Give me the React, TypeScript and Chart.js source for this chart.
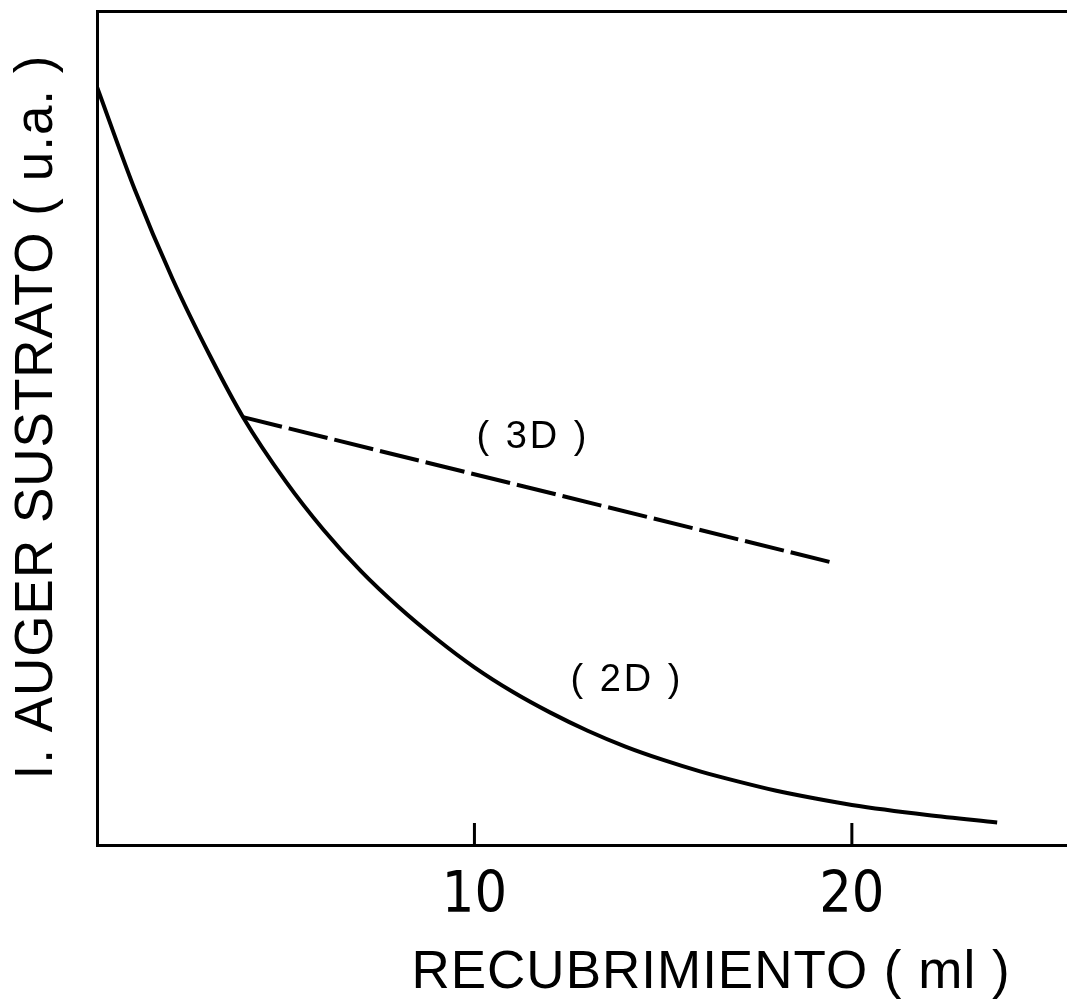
import { useEffect, useRef } from 'react';
import { Chart, registerables } from 'chart.js';

Chart.register(...registerables);

// Coverage (monolayers) and substrate Auger intensity (arbitrary units)
const curve2DX = [0, 1, 2, 3, 3.87, 5, 6, 7, 8, 9, 10, 11, 12, 13, 14, 15, 16, 17, 18, 19, 20, 22, 23.85];
const curve2DY = [90.9, 78.6, 67.9, 58.6, 51.3, 43.6, 37.8, 32.8, 28.5, 24.7, 21.3, 18.4, 15.9, 13.7, 11.8, 10.2, 8.8, 7.6, 6.5, 5.6, 4.8, 3.6, 2.7];

const curve3DX = [3.87, 19.45];
const curve3DY = [51.3, 33.9];

const xTickValues = [10, 20];
const xMin = 0;
const xMax = 25.7;
const yMin = 0;
const yMax = 100;

const xTitle = 'RECUBRIMIENTO ( ml )';
const yTitle = 'I. AUGER SUSTRATO ( u.a. )';
const curveLabels = ['( 3D )', '( 2D )'];
const curveLabelAnchorX = [11.55, 14.04];
const curveLabelAnchorY = [48.9, 19.7];

const FONT = '"Liberation Sans", Arial, sans-serif';
const NARROW_FONT = '"Liberation Sans Narrow", "DejaVu Sans Condensed", "Liberation Sans", sans-serif';

const toPoints = (xs: number[], ys: number[]) => xs.map((x, i) => ({ x, y: ys[i] }));

const figureText = {
  id: 'figureText',
  afterDraw(chart: any) {
    const { ctx, chartArea, scales } = chart;
    const x = scales.x;
    const y = scales.y;
    ctx.save();
    // inward tick marks on the bottom axis
    ctx.strokeStyle = '#000';
    ctx.lineWidth = 3;
    xTickValues.forEach((v) => {
      const px = x.getPixelForValue(v);
      ctx.beginPath();
      ctx.moveTo(px, chartArea.bottom);
      ctx.lineTo(px, chartArea.bottom - 22);
      ctx.stroke();
    });

    // curve labels
    ctx.fillStyle = '#000';
    ctx.textAlign = 'center';
    ctx.textBaseline = 'middle';
    ctx.font = `38px ${FONT}`;
    ctx.letterSpacing = '3px';
    curveLabels.forEach((t, i) => {
      ctx.fillText(t, x.getPixelForValue(curveLabelAnchorX[i]), y.getPixelForValue(curveLabelAnchorY[i]));
    });

    // axis titles
    ctx.font = `53px ${FONT}`;
    ctx.letterSpacing = '1px';
    ctx.textBaseline = 'alphabetic';
    ctx.fillText(xTitle, 711, 988);
    ctx.translate(52, 417);
    ctx.rotate(-Math.PI / 2);
    ctx.fillText(yTitle, 0, 0);
    ctx.restore();
  },
};

export default function App() {
  const ref = useRef<HTMLCanvasElement>(null);

  useEffect(() => {
    document.body.style.margin = '0';
    const canvas = ref.current;
    if (!canvas) return;
    const chart = new Chart(canvas, {
      type: 'line',
      data: {
        datasets: [
          {
            label: '2D',
            data: toPoints(curve2DX, curve2DY),
            borderColor: '#000',
            borderWidth: 4,
            pointRadius: 0,
            cubicInterpolationMode: 'monotone',
            fill: false,
          },
          {
            label: '3D',
            data: toPoints(curve3DX, curve3DY),
            borderColor: '#000',
            borderWidth: 4,
            borderDash: [40, 7],
            pointRadius: 0,
            fill: false,
          },
        ],
      },
      options: {
        responsive: false,
        animation: false,
        layout: { padding: 0 },
        plugins: {
          legend: { display: false },
          tooltip: { enabled: false },
          title: { display: false },
        },
        scales: {
          x: {
            type: 'linear',
            position: 'bottom',
            min: xMin,
            max: xMax,
            afterFit: (s: any) => {
              s.height = 159;
            },
            afterBuildTicks: (s: any) => {
              s.ticks = xTickValues.map((v) => ({ value: v }));
            },
            grid: { display: false },
            border: { display: true, color: '#000', width: 3 },
            ticks: {
              color: '#000',
              padding: 10,
              font: { family: NARROW_FONT, size: 57 },
              callback: (v: any) => String(v),
            },
          },
          xTop: {
            type: 'linear',
            position: 'top',
            min: xMin,
            max: xMax,
            afterFit: (s: any) => {
              s.height = 11;
            },
            grid: { display: false },
            border: { display: true, color: '#000', width: 3 },
            ticks: { display: false },
          },
          y: {
            type: 'linear',
            position: 'left',
            min: yMin,
            max: yMax,
            afterFit: (s: any) => {
              s.width = 97;
            },
            grid: { display: false },
            border: { display: true, color: '#000', width: 3 },
            ticks: { display: false },
          },
        },
      },
      plugins: [figureText],
    });
    return () => chart.destroy();
  }, []);

  return <canvas ref={ref} width={1067} height={1004} style={{ display: 'block' }} />;
}
